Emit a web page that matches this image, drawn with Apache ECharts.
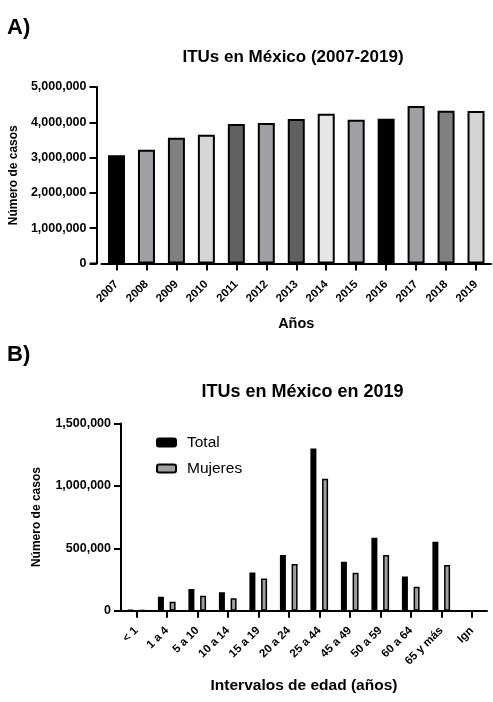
<!DOCTYPE html>
<html>
<head>
<meta charset="utf-8">
<script src="https://cdn.jsdelivr.net/npm/echarts@6/dist/echarts.min.js"></script>
<style>
html,body{margin:0;padding:0;background:#fff;}
#chart{width:493px;height:702px;}
</style>
</head>
<body>
<div id="chart"></div>
<script>
// ---- Data ----
const years = ['2007','2008','2009','2010','2011','2012','2013','2014','2015','2016','2017','2018','2019'];
const casesByYear = [3064000, 3220000, 3560000, 3650000, 3950000, 3980000, 4090000, 4240000, 4070000, 4100000, 4460000, 4330000, 4320000];

const ageGroups = ['< 1','1 a 4','5 a 10','10 a 14','15 a 19','20 a 24','25 a 44','45 a 49','50 a 59','60 a 64','65 y más','Ign'];
const totalByAge = [6000, 112000, 174000, 147000, 307000, 446000, 1300000, 392000, 585000, 275000, 553000, 0];
const womenByAge = [2000, 72000, 120000, 99000, 259000, 374000, 1057000, 304000, 446000, 192000, 366000, 0];

const seriesNames = ['Total', 'Mujeres'];
const titles = ['ITUs en México (2007-2019)', 'ITUs en México en 2019'];

// ---- Styles ----
const yearColors = ['#000000','#a0a0a4','#808080','#d6d6d6','#616161','#a0a0a4','#616161','#e6e6e6','#a0a0a4','#000000','#a0a0a4','#808080','#d4d4d4'];
const FONT = "'Liberation Sans', Arial, sans-serif";
const axisLine = {show:true, lineStyle:{color:'#000', width:2}};
const axisTick = {show:true, length:7, lineStyle:{color:'#000', width:2}};
const fmt = v => v.toLocaleString('en-US');

const chart = echarts.init(document.getElementById('chart'), null, {renderer:'canvas'});
chart.setOption({
  animation:false,
  backgroundColor:'#fff',
  textStyle:{fontFamily:FONT},
  title:[
    {text:'A)', left:2, top:12, textStyle:{fontFamily:FONT, fontSize:22, fontWeight:'bold', color:'#000'}},
    {text:titles[0], left:288, textAlign:'center', top:44, textStyle:{fontFamily:FONT, fontSize:17, fontWeight:'bold', color:'#000'}},
    {text:'B)', left:2, top:339, textStyle:{fontFamily:FONT, fontSize:22, fontWeight:'bold', color:'#000'}},
    {text:titles[1], left:297.5, textAlign:'center', top:378, textStyle:{fontFamily:FONT, fontSize:18, fontWeight:'bold', color:'#000'}}
  ],
  legend:{
    orient:'vertical', left:151, top:429, itemWidth:19, itemHeight:8, itemGap:9,
    data:seriesNames,
    textStyle:{fontFamily:FONT, fontSize:15.5, color:'#000', lineHeight:17, padding:[0,0,0,6]}
  },
  grid:[
    {left:96, right:2, top:87, bottom:702-263.5},
    {left:121, right:6, top:423.5, bottom:702-610.7}
  ],
  graphic:[
    {type:'line', shape:{x1:90, y1:263.5, x2:97, y2:263.5}, style:{stroke:'#000', lineWidth:2}}
  ],
  xAxis:[
    {type:'category', gridIndex:0, data:years,
     axisLine, axisTick:{...axisTick, alignWithLabel:true},
     axisLabel:{rotate:45, fontSize:11.5, fontWeight:'bold', color:'#000', margin:19, fontFamily:FONT},
     name:'Años', nameLocation:'middle', nameGap:53,
     nameTextStyle:{fontSize:14.5, fontWeight:'bold', color:'#000', fontFamily:FONT}},
    {type:'category', gridIndex:1, data:ageGroups,
     axisLine, axisTick:{...axisTick, alignWithLabel:true},
     axisLabel:{rotate:45, fontSize:11.5, fontWeight:'bold', color:'#000', margin:18, fontFamily:FONT, interval:0},
     name:'Intervalos de edad (años)', nameLocation:'middle', nameGap:67,
     nameTextStyle:{fontSize:15.5, fontWeight:'bold', color:'#000', fontFamily:FONT}}
  ],
  yAxis:[
    {type:'value', gridIndex:0, min:0, max:5000000, interval:1000000, offset:5,
     axisLine, axisTick, splitLine:{show:false},
     axisLabel:{fontSize:12.5, fontWeight:'bold', color:'#000', margin:10, formatter:fmt, fontFamily:FONT},
     name:'Número de casos', nameLocation:'middle', nameGap:73,
     nameTextStyle:{fontSize:12, fontWeight:'bold', color:'#000', fontFamily:FONT}},
    {type:'value', gridIndex:1, min:0, max:1500000, interval:500000,
     axisLine, axisTick, splitLine:{show:false},
     axisLabel:{fontSize:12.5, fontWeight:'bold', color:'#000', margin:10, formatter:fmt, fontFamily:FONT},
     name:'Número de casos', nameLocation:'middle', nameGap:78,
     nameTextStyle:{fontSize:12, fontWeight:'bold', color:'#000', fontFamily:FONT}}
  ],
  series:[
    {type:'bar', name:'Casos', xAxisIndex:0, yAxisIndex:0, barWidth:17,
     data:casesByYear.map((v,i)=>({value:v, itemStyle:{color:yearColors[i]}})),
     itemStyle:{borderColor:'#000', borderWidth:2}},
    {type:'bar', name:seriesNames[0], xAxisIndex:1, yAxisIndex:1, barWidth:6, barGap:'95%',
     data:totalByAge, itemStyle:{color:'#000', borderColor:'#000', borderWidth:1.5}},
    {type:'bar', name:seriesNames[1], xAxisIndex:1, yAxisIndex:1, barWidth:6, barGap:'95%',
     data:womenByAge, itemStyle:{color:'#a0a0a0', borderColor:'#000', borderWidth:1.5}}
  ]
});
</script>
</body>
</html>
